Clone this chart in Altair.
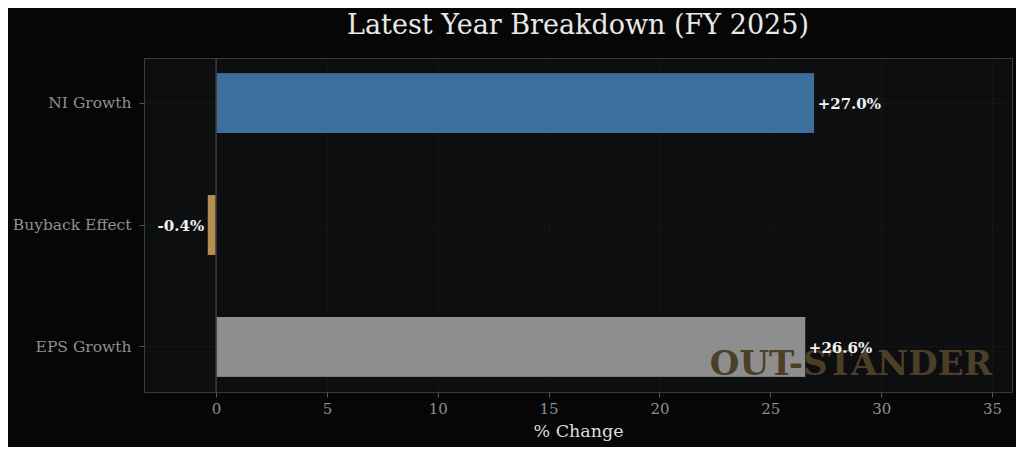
import altair as alt
import pandas as pd

categories = ["NI Growth", "Buyback Effect", "EPS Growth"]
values = [27.0, -0.4, 26.6]
labels = ["+27.0%", "-0.4%", "+26.6%"]
colors = ["#3d6f9c", "#b38f52", "#8e8e8e"]
x_ticks = [0, 5, 10, 15, 20, 25, 30, 35]

df = pd.DataFrame({"cat": categories, "val": values, "lab": labels, "col": colors})

FONT = "DejaVu Serif"
W, H = 868, 334

xscale = alt.Scale(domain=[-3.25, 35.9], nice=False, zero=False)
yscale = alt.Scale(domain=categories, paddingInner=0.5, paddingOuter=0.12)

base = alt.Chart(df)

bars = base.mark_bar(stroke="#0b0c0e", strokeWidth=1).encode(
    x=alt.X("val:Q", scale=xscale,
            axis=alt.Axis(values=x_ticks, title="% Change", grid=True,
                          gridColor="#1d1f22", gridDash=[2, 2], gridWidth=0.8,
                          domain=False, tickColor="#555555", tickSize=5,
                          labelColor="#8f8f8f", labelFont=FONT, labelFontSize=15,
                          labelPadding=4, titleColor="#dddddd", titleFont=FONT,
                          titleFontSize=17.5, titleFontWeight="normal", titlePadding=6)),
    x2=alt.datum(0),
    y=alt.Y("cat:N", scale=yscale, sort=categories,
            axis=alt.Axis(title=None, grid=True, bandPosition=0.5,
                          gridColor="#1d1f22", gridDash=[2, 2], gridWidth=0.8,
                          domain=False, tickColor="#555555", tickSize=5,
                          labelColor="#8f8f8f", labelFont=FONT, labelFontSize=15.5,
                          labelPadding=8)),
    color=alt.Color("col:N", scale=None),
)

zero_rule = alt.Chart(pd.DataFrame({"z": [0]})).mark_rule(color="#4a4a4a", strokeWidth=1.2).encode(
    x=alt.X("z:Q", scale=xscale)
)

pos_text = base.transform_filter("datum.val >= 0").mark_text(
    align="left", baseline="middle", dx=3, dy=1, font=FONT, fontSize=15, fontWeight="bold", color="#f2f2f2"
).encode(
    x=alt.X("val:Q", scale=xscale), y=alt.Y("cat:N", scale=yscale, sort=categories), text="lab:N"
)
neg_text = base.transform_filter("datum.val < 0").mark_text(
    align="right", baseline="middle", dx=-3, dy=1, font=FONT, fontSize=15, fontWeight="bold", color="#f2f2f2"
).encode(
    x=alt.X("val:Q", scale=xscale), y=alt.Y("cat:N", scale=yscale, sort=categories), text="lab:N"
)

watermark = alt.Chart(pd.DataFrame({"w": ["OUT-STANDER"]})).mark_text(
    align="right", baseline="middle", font=FONT, fontSize=34, fontWeight="bold", color="#4d3e27"
).encode(
    x=alt.value(W - 20), y=alt.value(307), text="w:N"
)

chart = alt.layer(bars, zero_rule, watermark, pos_text, neg_text).properties(
    width=W, height=H,
    title=alt.TitleParams("Latest Year Breakdown (FY 2025)", font=FONT, fontSize=27,
                          fontWeight="normal", color="#e8e8e8", anchor="middle", offset=17),
    background="#060606",
    autosize=alt.AutoSizeParams(type="none"),
    padding={"left": 136, "top": 50, "right": 4, "bottom": 55},
).configure_view(
    fill="#0d0e10", stroke="#3a3a3a", strokeWidth=1
)

chart.save("out.html", embed_options={"renderer": "svg", "actions": False})
